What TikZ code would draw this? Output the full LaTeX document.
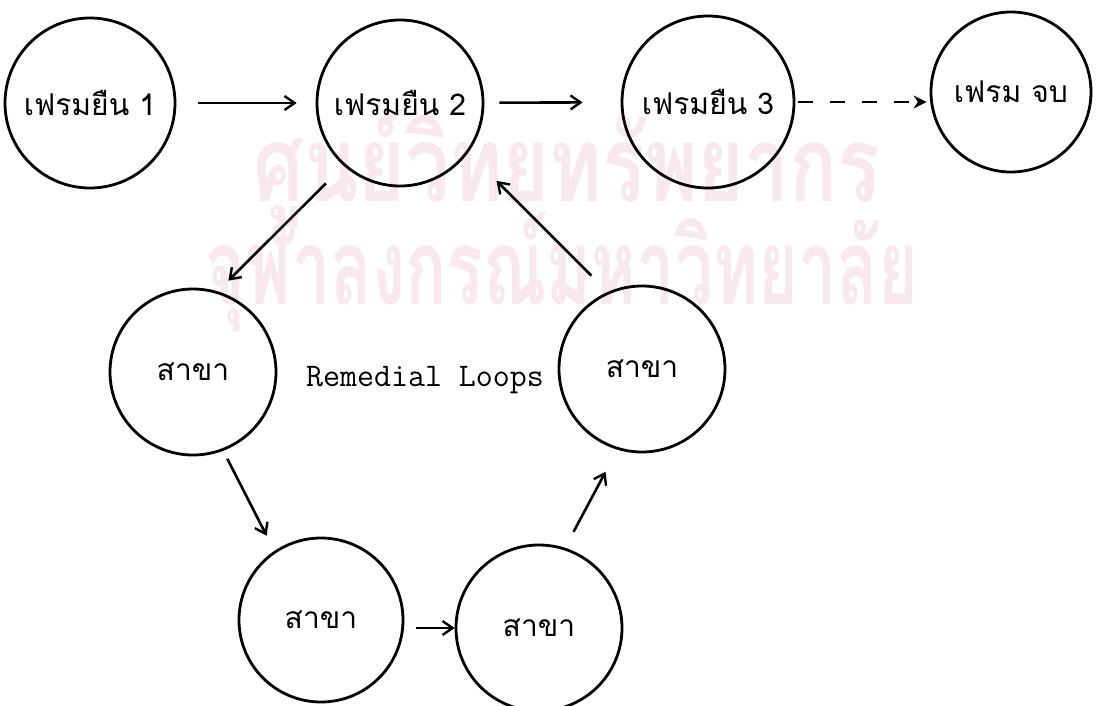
\documentclass[tikz,border=0pt]{standalone}
\usepackage{fontspec}
\newfontfamily\thai[Script=Thai]{Loma}
\usetikzlibrary{arrows.meta}
\definecolor{wm}{RGB}{248,232,240}
\begin{document}
\begin{tikzpicture}[x=1pt,y=-1pt,
  state/.style={circle,draw,line width=2.8pt,inner sep=0pt,minimum size=166pt,
    font=\thai\fontsize{30}{36}\selectfont},
  arr/.style={line width=2.6pt,-{Straight Barb[length=10pt,width=14pt,line width=2.4pt]}},
  dasharr/.style={line width=2.4pt,dash pattern=on 15pt off 17pt,
    -{Stealth[length=13pt,width=13pt]}},
  wmark/.style={text=wm,inner sep=0pt,font=\thai\bfseries\fontsize{105}{115}\selectfont}
]
\useasboundingbox[fill=white] (0,0) rectangle (1101,705);
% watermark
\node[wmark] (w1) at (567,168) {\scalebox{0.76}[1]{ศูนย์วิทยทรัพยากร}};
\node[wmark] (w2) at (562,272) {\scalebox{0.65}[1]{จุฬาลงกรณ์มหาวิทยาลัย}};
% frames
\node[state,minimum size=170pt] (c1) at (90,103) {เฟรมยืน 1};
\node[state] (c2) at (400,103) {เฟรมยืน 2};
\node[state,minimum size=172pt] (c3) at (708,102) {เฟรมยืน 3};
\node[state,minimum size=160pt] (c4) at (1011,92) {เฟรม จบ};
\node[state] (s1) at (193,372) {สาขา};
\node[state] (s2) at (642,369) {สาขา};
\node[state,minimum size=164pt] (s3) at (321,620) {สาขา};
\node[state] (s4) at (539,628) {สาขา};
\node[font=\ttfamily\fontsize{33}{39}\selectfont] (rl) at (425,380) {Remedial Loops};
% connectors
\draw[arr,shorten <=22pt,shorten >=19pt] (c1) -- (c2);
\draw[arr,shorten <=15pt,shorten >=38pt] (c2) -- (c3);
\draw[dasharr,shorten <=3pt,shorten >=3pt] (c3.east) -- (c4.west |- c3.east);
\draw[arr,shorten <=25pt,shorten >=15pt] (c2.228.4) -- (s1.73.5);
\draw[arr,shorten <=9pt,shorten >=17pt] (s1.291.3) -- (s3.124.4);
\draw[arr,shorten <=12pt] (s3.east |- s4.west) -- (s4.west);
\draw[arr,shorten <=18pt,shorten >=25pt] (s4.72.2) -- (s2.253.7);
\draw[arr,shorten <=23pt,shorten >=40pt] (s2.114.5) -- (c2.324.6);
\end{tikzpicture}
\end{document}
